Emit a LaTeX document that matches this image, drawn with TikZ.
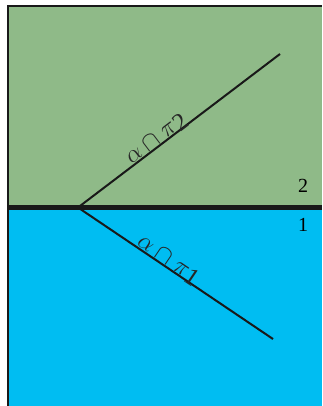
\documentclass[tikz,border=0pt]{standalone}
\usepackage{fontspec}
\setmainfont{Liberation Serif}
\definecolor{pgreen}{HTML}{8FBA88}
\definecolor{pblue}{HTML}{00BDF2}
\newcommand{\lblt}[1]{$\alpha\cap\pi$\kern0.5pt\raisebox{-0.15em}{#1}}
\begin{document}
\begin{tikzpicture}[x=1pt,y=-1pt,
  edge/.style={line width=2pt,draw=black!90},
  lbl/.style={inner sep=0pt,sloped,anchor=base,text=black!85,font=\fontsize{25}{28}\selectfont},
  num/.style={inner sep=0pt,font=\fontsize{20}{24}\selectfont}]
\useasboundingbox (0,0) rectangle (322,406);
\fill[pgreen] (8,6) rectangle (322,207.5);
\fill[pblue] (8,207.5) rectangle (322,406);
\draw[line width=2.5pt,black!90] (8,406) -- (8,6) -- (322,6);
\coordinate (v) at (78,207.5);
\coordinate (u) at (280,54);
\coordinate (d) at (273,339);
\coordinate (l) at (8,207.5);
\coordinate (r) at (322,207.5);
\draw[line width=4.5pt,black!90] (l) -- (r);
\draw[edge] (v) -- (u);
\draw[edge] (v) -- (d);
\path (v) -- (u) node[lbl,pos=0.41,yshift=1.5pt] (a2) {\lblt{2}};
\path (v) -- (d) node[lbl,pos=0.445,yshift=1.5pt] (a1) {\lblt{1}};
\node[num] (n2) at (303,186) {2};
\node[num] (n1) at (303,224.5) {1};
\end{tikzpicture}
\end{document}
